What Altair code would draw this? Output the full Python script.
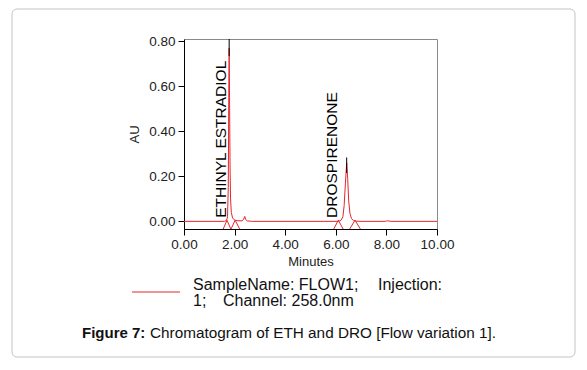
import altair as alt
import pandas as pd

FONT = "Liberation Sans"
RED = "#e3262b"

# Chromatogram trace (minutes, AU)
trace_t = [0.0, 1.60, 1.68, 1.72, 1.75, 1.77, 1.785, 1.80, 1.82, 1.84, 1.87, 1.92, 2.00, 2.10,
           2.30, 2.36, 2.40, 2.44, 2.50, 2.70, 6.10, 6.20, 6.28, 6.33, 6.38, 6.43, 6.47, 6.51,
           6.56, 6.62, 6.70, 6.80, 7.00, 7.95, 8.00, 8.10, 8.15, 10.0]
trace_au = [0.0, 0.0, 0.004, 0.02, 0.15, 0.55, 0.77, 0.55, 0.25, 0.10, 0.04, 0.015, 0.006, 0.003,
            0.002, 0.01, 0.022, 0.008, 0.002, 0.0, 0.0, 0.004, 0.02, 0.07, 0.17, 0.26, 0.19, 0.09,
            0.035, 0.012, 0.004, 0.001, 0.0, 0.0, 0.002, 0.002, 0.0, 0.0]

# Peak apex markers (black)
apex_t = [1.785, 6.43]
apex_lo = [0.735, 0.215]
apex_hi = [0.811, 0.284]

# Integration baseline markers (red carets)
mark_id = [1, 1, 1, 2, 2, 2, 3, 3, 3, 4, 4, 4]
mark_t = [1.55, 1.70, 1.85, 1.86, 2.02, 2.20, 5.92, 6.10, 6.29, 6.55, 6.76, 6.97]
mark_au = [-0.034, 0.005, -0.034, -0.034, 0.005, -0.034, -0.034, 0.005, -0.034, -0.034, 0.005, -0.034]

# Peak labels
peak_names = ["ETHINYL ESTRADIOL", "DROSPIRENONE"]
peak_label_t = [1.65, 6.04]
peak_label_au = [0.016, 0.015]

y_ticks = [0.0, 0.05, 0.10, 0.15, 0.20, 0.25, 0.30, 0.35, 0.40, 0.45, 0.50, 0.55, 0.60, 0.65, 0.70, 0.75, 0.80]
x_ticks = [0.0, 0.5, 1.0, 1.5, 2.0, 2.5, 3.0, 3.5, 4.0, 4.5, 5.0, 5.5, 6.0, 6.5, 7.0, 7.5, 8.0, 8.5, 9.0, 9.5, 10.0]

trace_df = pd.DataFrame({"t": trace_t, "au": trace_au})
apex_df = pd.DataFrame({"t": apex_t, "lo": apex_lo, "hi": apex_hi})
marks_df = pd.DataFrame({"id": mark_id, "t": mark_t, "au": mark_au})
labels_df = pd.DataFrame({"name": peak_names, "t": peak_label_t, "au": peak_label_au})
one = pd.DataFrame({"a": [0]})

xscale = alt.Scale(domain=[0, 10], nice=False, zero=False)
yscale = alt.Scale(domain=[-0.034, 0.811], nice=False, zero=False)

xaxis = alt.Axis(
    title="Minutes", values=x_ticks,
    labelExpr="datum.value % 2 == 0 ? format(datum.value, '.2f') : ''",
    tickSize={"condition": {"test": "datum.value % 2 == 0", "value": 6}, "value": 4},
    labelPadding=2, titlePadding=5, grid=False, labelFlush=False, labelOverlap=False,
)
yaxis = alt.Axis(
    title="AU", values=y_ticks,
    labelExpr="abs(datum.value*5 - round(datum.value*5)) < 0.001 ? format(datum.value, '.2f') : ''",
    tickSize={"condition": {"test": "abs(datum.value*5 - round(datum.value*5)) < 0.001", "value": 6}, "value": 4},
    labelPadding=3, titlePadding=7, grid=False, labelFlush=False, labelOverlap=False,
)

frame = alt.Chart(one).mark_rect(filled=False, stroke="#c4c4c4", strokeWidth=1, cornerRadius=5).encode(
    x=alt.value(-172), x2=alt.value(391), y=alt.value(-30), y2=alt.value(318)
)

trace = alt.Chart(trace_df).mark_line(color=RED, strokeWidth=1, clip=True).encode(
    x=alt.X("t:Q", scale=xscale, axis=xaxis),
    y=alt.Y("au:Q", scale=yscale, axis=yaxis),
)

carets = alt.Chart(marks_df).mark_line(color=RED, strokeWidth=1, clip=True).encode(
    x="t:Q", y="au:Q", detail="id:N"
)

apex = alt.Chart(apex_df).mark_rule(color="black", strokeWidth=1, clip=True).encode(
    x="t:Q", y="lo:Q", y2="hi:Q"
)

labels = alt.Chart(labels_df).mark_text(
    angle=270, align="left", baseline="alphabetic", font=FONT, fontSize=15.5, color="black"
).encode(x="t:Q", y="au:Q", text="name:N")

leg_line = alt.Chart(one).mark_rule(color=RED, strokeWidth=1).encode(
    x=alt.value(-52), x2=alt.value(-4), y=alt.value(253)
)
leg_texts = []
for txt, xx, yy in [("SampleName: FLOW1;", 9, 251), ("Injection:", 194, 251),
                    ("1;", 9, 267), ("Channel: 258.0nm", 39, 267)]:
    leg_texts.append(
        alt.Chart(one).mark_text(align="left", baseline="alphabetic", font=FONT, fontSize=16, color="#111").encode(
            x=alt.value(xx), y=alt.value(yy), text=alt.value(txt)
        )
    )

cap_bold = alt.Chart(one).mark_text(align="left", baseline="alphabetic", font=FONT, fontSize=15,
                                    fontWeight="bold", color="#111").encode(
    x=alt.value(-102), y=alt.value(299), text=alt.value("Figure 7:")
)
cap_reg = alt.Chart(one).mark_text(align="left", baseline="alphabetic", font=FONT, fontSize=15.3, color="#111").encode(
    x=alt.value(-34), y=alt.value(299), text=alt.value("Chromatogram of ETH and DRO [Flow variation 1].")
)

chart = alt.layer(frame, trace, carets, apex, labels, leg_line, *leg_texts, cap_bold, cap_reg).properties(
    width=253, height=190,
    autosize="none",
    padding={"left": 176, "top": 31, "right": 142, "bottom": 130},
).configure_view(stroke="#8a8a8a", strokeWidth=1).configure_axis(
    domainColor="black", tickColor="black", labelFont=FONT, titleFont=FONT,
    labelFontSize=13.5, titleFontSize=13, titleFontWeight="normal",
    labelColor="#222", titleColor="#222",
)

chart.save("out.html", embed_options={"renderer": "svg", "actions": False})
